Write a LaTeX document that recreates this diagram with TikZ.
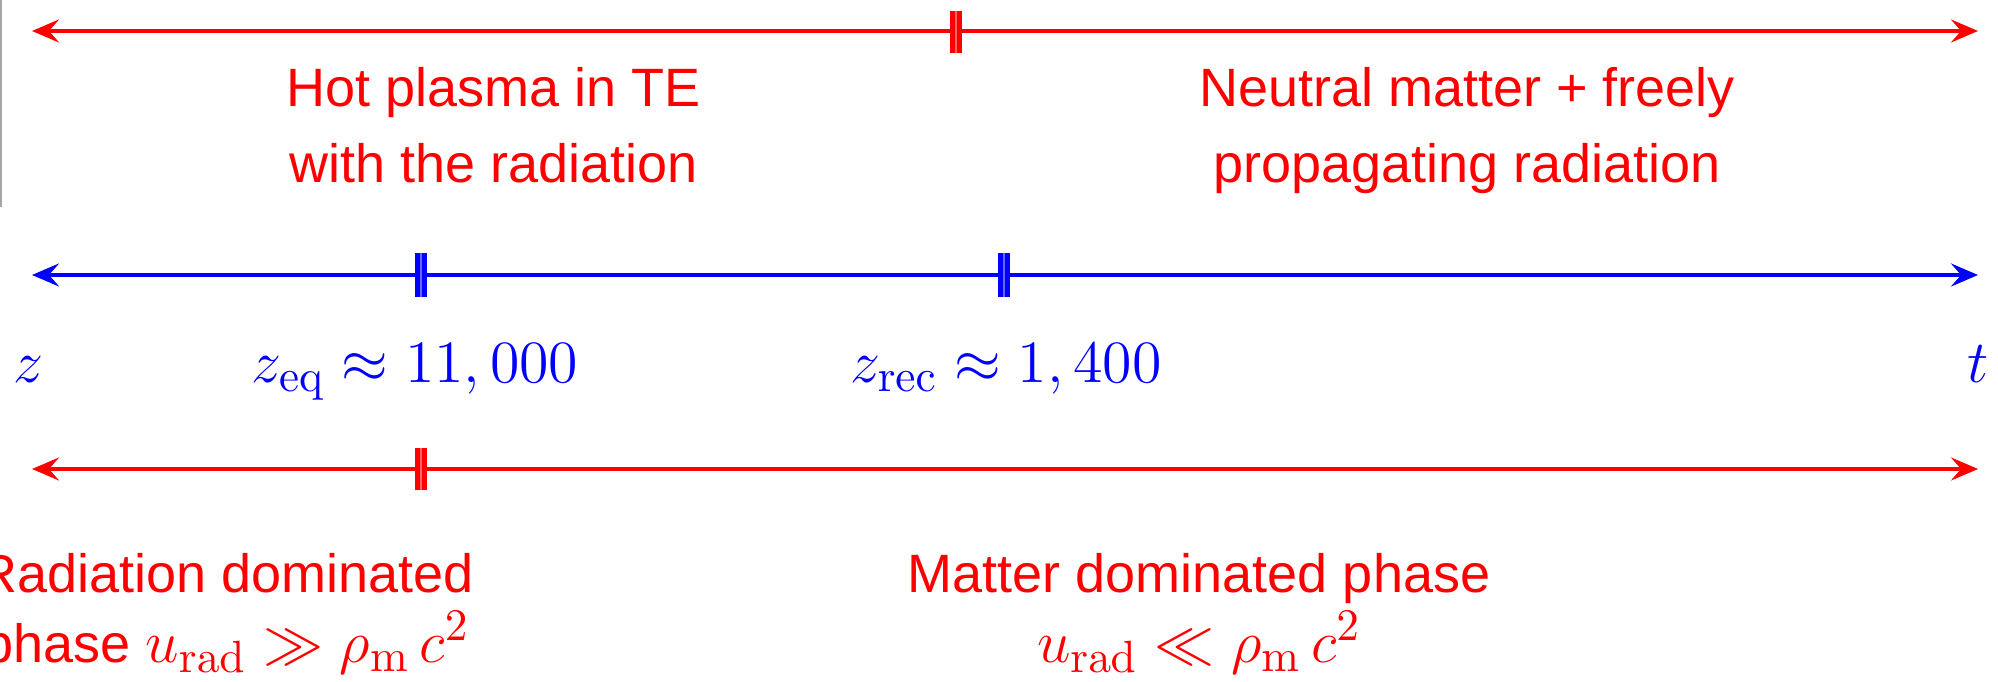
\RequirePackage{fix-cm}
\documentclass[tikz,border=0pt]{standalone}
\usepackage[no-math]{fontspec}
\newfontfamily\labelfont{Liberation Sans}
\usetikzlibrary{arrows.meta}
\DeclareMathSizes{13.5}{15}{11.3}{8}
\begin{document}
\begin{tikzpicture}[x=0.25pt,y=-0.25pt,
  font=\fontsize{13.5}{19}\selectfont,
  redaxis/.style={draw=red,line width=1pt,{Stealth[length=6.75pt,width=5.75pt,inset=2.5pt]}-{Stealth[length=6.75pt,width=5.75pt,inset=2.5pt]}},
  blueaxis/.style={draw=blue,line width=1pt,{Stealth[length=6.75pt,width=5.75pt,inset=2.5pt]}-{Stealth[length=6.75pt,width=5.75pt,inset=2.5pt]}},
  redtick/.style={draw=red,line width=1.1pt,double=red!60,double distance=0.6pt},
  bluetick/.style={draw=blue,line width=1.1pt,double=blue!60,double distance=0.6pt},
  redtext/.style={text=red,font=\fontsize{13.5}{19}\selectfont\labelfont,align=center,anchor=base,inner sep=0pt},
  redtextlow/.style={redtext,font=\fontsize{13.5}{17.5}\selectfont\labelfont},
  bluetext/.style={text=blue,anchor=base,inner sep=0pt}]
\useasboundingbox (0,0) rectangle (1998,682);
% screenshot edge
\draw[black!35,line width=0.5pt] (1,0) -- (1,207);
% top red axis
\coordinate (tl) at (32,31);
\coordinate (tr) at (1978,31);
\coordinate (ta) at (956,11);
\coordinate (tb) at (956,53);
\draw[redaxis] (tl) -- (tr);
\draw[redtick] (ta) -- (tb);
\node[redtext] (hot) at (494,183) {Hot plasma in TE\\with the radiation};
\node[redtext] (neutral) at (1467,183) {Neutral matter + freely\\propagating radiation};
% middle blue axis
\coordinate (ml) at (32,275);
\coordinate (mr) at (1978,275);
\coordinate (ea) at (421,253);
\coordinate (eb) at (421,297);
\coordinate (ra) at (1004,253);
\coordinate (rb) at (1004,297);
\draw[blueaxis] (ml) -- (mr);
\draw[bluetick] (ea) -- (eb);
\draw[bluetick] (ra) -- (rb);
\node[bluetext] (z) at (28,383) {$z$};
\node[bluetext] (zeq) at (415,383) {$z_{\mathrm{eq}} \approx 11,000$};
\node[bluetext] (zrec) at (1006,383) {$z_{\mathrm{rec}} \approx 1,400$};
\node[bluetext] (t) at (1978,383) {$t$};
% bottom red axis
\coordinate (bl) at (32,469);
\coordinate (br) at (1978,469);
\coordinate (ba) at (421,448);
\coordinate (bb) at (421,490);
\draw[redaxis] (bl) -- (br);
\draw[redtick] (ba) -- (bb);
\node[redtextlow] (raddom) at (226.5,662) {Radiation dominated\\phase $u_{\mathrm{rad}} \gg \rho_{\mathrm{m}}\, c^2$};
\node[redtextlow] (matdom) at (1199,662) {Matter dominated phase\\$u_{\mathrm{rad}} \ll \rho_{\mathrm{m}}\, c^2$};
\end{tikzpicture}
\end{document}
